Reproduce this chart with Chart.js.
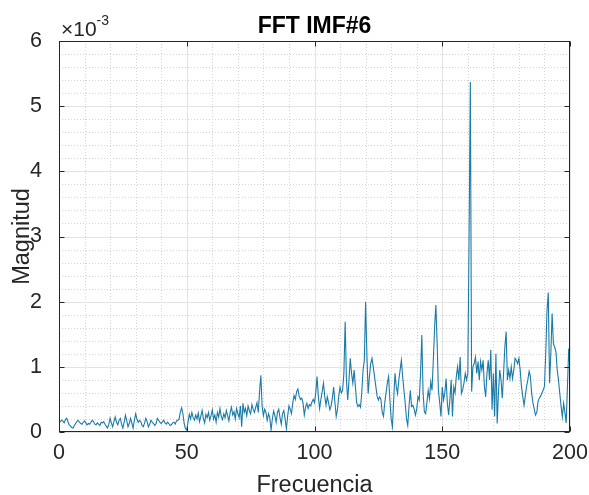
<!DOCTYPE html>
<html>
<head>
<meta charset="utf-8">
<script src="https://cdn.jsdelivr.net/npm/chart.js@4.4.0/dist/chart.umd.min.js"></script>
<style>
  html, body { margin: 0; padding: 0; background: #fff; }
  #wrap { width: 589px; height: 495px; }
</style>
</head>
<body>
<div id="wrap"><canvas id="fft"></canvas></div>
<script>
const mag0to50 = [
  0.15,0.16,0.18,0.17,0.14,0.19,0.21,0.16,0.11,0.09,0.07,0.06,0.10,0.13,0.16,0.18,0.15,0.13,0.12,0.15,
  0.17,0.14,0.11,0.13,0.12,0.15,0.18,0.16,0.12,0.11,0.14,0.12,0.10,0.15,0.14,0.16,0.12,0.09,0.06,0.12,
  0.21,0.14,0.08,0.16,0.23,0.15,0.11,0.18,0.21,0.12,0.06,0.15,0.26,0.18,0.08,0.13,0.21,0.14,0.06,0.18,
  0.28,0.20,0.15,0.18,0.16,0.10,0.08,0.14,0.21,0.16,0.08,0.12,0.18,0.15,0.13,0.10,0.13,0.21,0.18,0.15,
  0.13,0.16,0.18,0.14,0.12,0.15,0.13,0.10,0.11,0.14,0.15,0.12,0.17,0.18,0.20,0.31,0.37,0.28,0.13,0.05
];
const mag50to100 = [
  0.03,0.15,0.27,0.20,0.30,0.22,0.18,0.26,0.20,0.29,0.16,0.24,0.33,0.21,0.14,0.27,0.22,0.30,0.18,0.25,
  0.34,0.20,0.26,0.15,0.30,0.23,0.36,0.24,0.19,0.28,0.22,0.33,0.25,0.17,0.30,0.38,0.26,0.31,0.20,0.36,
  0.28,0.22,0.40,0.08,0.44,0.30,0.36,0.25,0.40,0.33,0.28,0.42,0.35,0.30,0.38,0.45,0.30,0.62,0.87,0.40,
  0.25,0.35,0.30,0.18,0.28,0.22,0.03,0.20,0.32,0.25,0.15,0.30,0.35,0.22,0.12,0.28,0.33,0.20,0.05,0.25,
  0.40,0.35,0.28,0.45,0.56,0.50,0.62,0.66,0.55,0.50,0.52,0.45,0.26,0.38,0.44,0.36,0.42,0.40,0.46,0.50
];
const mag100to150 = [
  0.45,0.60,0.85,0.55,0.36,0.50,0.62,0.75,0.55,0.41,0.54,0.45,0.34,0.40,0.52,0.69,0.45,0.24,0.35,0.55,
  0.69,0.60,0.64,0.90,1.69,0.80,0.49,0.80,1.13,0.90,0.75,0.95,0.70,0.45,0.39,0.42,0.38,0.60,0.95,1.10,
  2.00,1.20,0.59,0.85,1.05,1.13,1.00,0.85,0.70,0.55,0.49,0.54,0.50,0.30,0.24,0.45,0.60,0.75,0.85,0.50,
  0.20,0.08,0.50,0.90,0.70,0.59,0.80,0.95,1.10,0.85,0.64,0.45,0.20,0.10,0.40,0.64,0.39,0.41,0.35,0.26,
  0.35,0.54,0.49,0.90,1.49,0.60,0.31,0.28,0.45,0.64,0.51,0.77,0.64,1.10,1.60,1.95,1.36,0.64,0.45,0.24
];
const mag150to200 = [
  0.69,0.49,0.60,0.82,0.44,0.26,0.50,0.80,0.24,0.69,0.60,0.85,1.00,0.80,1.15,0.59,0.65,0.75,0.90,0.80,
  0.90,3.00,5.37,0.62,1.00,1.05,1.15,0.90,1.08,0.80,1.08,0.95,1.10,0.70,0.54,0.90,1.10,0.80,1.26,0.34,
  0.90,0.24,1.20,0.13,0.60,0.95,0.80,0.52,0.90,1.30,1.54,0.80,0.95,0.82,1.00,0.82,0.95,1.13,1.10,1.05,
  1.13,0.95,0.70,0.55,0.41,0.55,0.70,0.80,0.93,0.85,0.59,0.45,0.35,0.26,0.30,0.47,0.52,0.55,0.60,0.64,
  0.70,1.20,1.87,2.14,0.75,1.20,1.82,1.36,1.30,1.23,0.95,0.80,0.59,0.40,0.23,0.44,0.30,0.14,0.70,1.28,
  0.95
];
const magnitude = [...mag0to50, ...mag50to100, ...mag100to150, ...mag150to200];
const freqStep = 0.5;
const xTicks = [0, 50, 100, 150, 200];
const yTicks = [0, 1, 2, 3, 4, 5, 6];
const chartTitle = 'FFT IMF#6';

const points = magnitude.map((m, i) => ({ x: i * freqStep, y: m }));

const axisColor = '#262626';
const fontFamily = '"Liberation Sans", Arial, Helvetica, sans-serif';

// grid, box, inward ticks, title and the x10^-3 label, MATLAB style
const matlabAxes = {
  id: 'matlabAxes',
  beforeDatasetsDraw(chart) {
    const { ctx, chartArea: a, scales: { x, y } } = chart;
    ctx.save();
    ctx.lineWidth = 1;
    // minor grid (dotted)
    ctx.strokeStyle = '#d4d4d4';
    ctx.setLineDash([1, 2]);
    for (let v = 10; v < 200; v += 10) {
      if (v % 50 === 0) continue;
      const px = Math.round(x.getPixelForValue(v)) + 0.5;
      ctx.beginPath(); ctx.moveTo(px, a.top); ctx.lineTo(px, a.bottom); ctx.stroke();
    }
    for (let k = 1; k < 30; k++) {
      if (k % 5 === 0) continue;
      const py = Math.round(y.getPixelForValue(k * 0.2)) + 0.5;
      ctx.beginPath(); ctx.moveTo(a.left, py); ctx.lineTo(a.right, py); ctx.stroke();
    }
    // major grid
    ctx.setLineDash([]);
    ctx.strokeStyle = '#e3e3e3';
    xTicks.forEach(v => {
      const px = Math.round(x.getPixelForValue(v)) + 0.5;
      ctx.beginPath(); ctx.moveTo(px, a.top); ctx.lineTo(px, a.bottom); ctx.stroke();
    });
    yTicks.forEach(v => {
      const py = Math.round(y.getPixelForValue(v)) + 0.5;
      ctx.beginPath(); ctx.moveTo(a.left, py); ctx.lineTo(a.right, py); ctx.stroke();
    });
    ctx.restore();
  },
  afterDatasetsDraw(chart) {
    const { ctx, chartArea: a, scales: { x, y } } = chart;
    ctx.save();
    ctx.strokeStyle = axisColor;
    ctx.lineWidth = 1;
    const l = Math.round(a.left) + 0.5, r = Math.round(a.right) - 0.5;
    const t = Math.round(a.top) + 0.5, b = Math.round(a.bottom) - 0.5;
    ctx.strokeRect(l, t, r - l, b - t);
    const tl = 5;
    ctx.beginPath();
    xTicks.forEach(v => {
      const px = Math.round(x.getPixelForValue(v)) + 0.5;
      ctx.moveTo(px, b); ctx.lineTo(px, b - tl);
      ctx.moveTo(px, t); ctx.lineTo(px, t + tl);
    });
    yTicks.forEach(v => {
      const py = Math.round(y.getPixelForValue(v)) + 0.5;
      ctx.moveTo(l, py); ctx.lineTo(l + tl, py);
      ctx.moveTo(r, py); ctx.lineTo(r - tl, py);
    });
    ctx.stroke();
    // title, centred over the axes
    ctx.fillStyle = '#000';
    ctx.textBaseline = 'alphabetic';
    ctx.textAlign = 'center';
    ctx.font = 'bold 23px ' + fontFamily;
    ctx.fillText(chartTitle, (a.left + a.right) / 2, 33);
    // exponent label
    ctx.fillStyle = axisColor;
    ctx.textAlign = 'left';
    ctx.font = '21px ' + fontFamily;
    ctx.fillText('\u00d710', a.left + 2, 36);
    const w = ctx.measureText('\u00d710').width;
    ctx.font = '14px ' + fontFamily;
    ctx.fillText('-3', a.left + 2 + w, 25);
    ctx.restore();
  }
};

new Chart(document.getElementById('fft'), {
  type: 'line',
  data: {
    datasets: [{
      data: points,
      borderColor: '#1b7ba8',
      borderWidth: 1.1,
      pointRadius: 0,
      tension: 0,
      fill: false
    }]
  },
  options: {
    responsive: true,
    maintainAspectRatio: false,
    animation: false,
    layout: { padding: { left: 0, right: 19, top: 41, bottom: 0 } },
    plugins: {
      legend: { display: false },
      tooltip: { enabled: false },
      title: { display: false }
    },
    scales: {
      x: {
        type: 'linear',
        min: 0,
        max: 200,
        grid: { display: false },
        border: { display: false },
        afterBuildTicks(scale) { scale.ticks = xTicks.map(v => ({ value: v })); },
        afterFit(scale) { scale.height = 63; },
        ticks: {
          color: axisColor,
          padding: 0,
          maxRotation: 0,
          font: { family: fontFamily, size: 21.5 }
        },
        title: {
          display: true,
          text: 'Frecuencia',
          color: axisColor,
          font: { family: fontFamily, size: 23.5 },
          padding: { top: 0, bottom: -5 }
        }
      },
      y: {
        min: 0,
        max: 6,
        grid: { display: false },
        border: { display: false },
        afterBuildTicks(scale) { scale.ticks = yTicks.map(v => ({ value: v })); },
        afterFit(scale) { scale.width = 59; },
        ticks: {
          color: axisColor,
          padding: 9,
          font: { family: fontFamily, size: 21.5 }
        },
        title: {
          display: true,
          text: 'Magnitud',
          color: axisColor,
          font: { family: fontFamily, size: 23.5 },
          padding: { top: 8, bottom: 0 }
        }
      }
    }
  },
  plugins: [matlabAxes]
});
</script>
</body>
</html>
